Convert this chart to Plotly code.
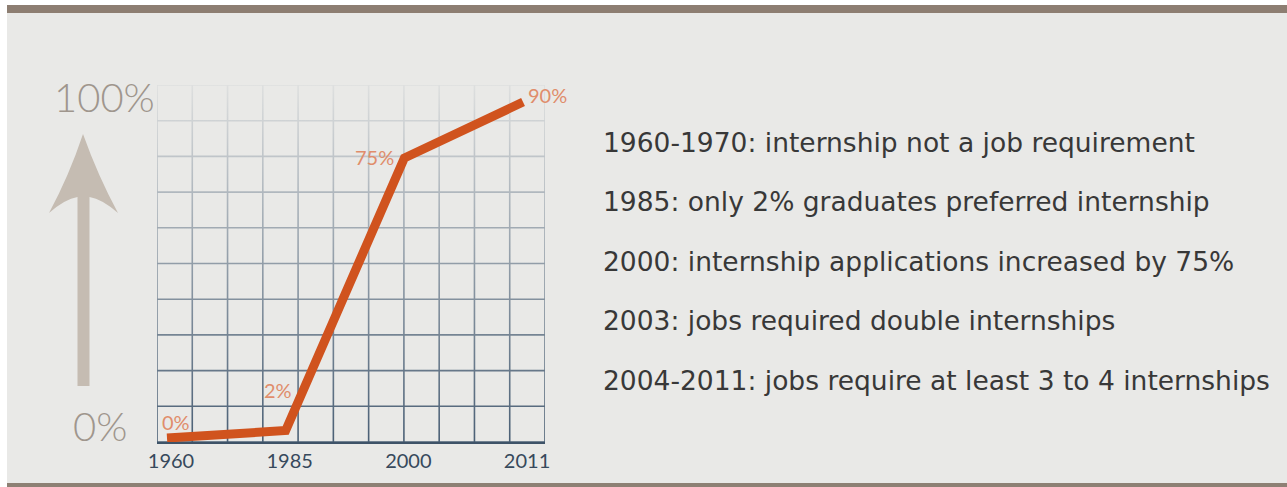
import numpy as np
import plotly.graph_objects as go

# ---------------- data ----------------
years = ["1960", "1985", "2000", "2011"]
share = [0, 2, 75, 90]
point_labels = ["0%", "2%", "75%", "90%"]
scale_labels = ["100%", "0%"]
notes = [
    "1960-1970: internship not a job requirement",
    "1985: only 2% graduates preferred internship",
    "2000: internship applications increased by 75%",
    "2003: jobs required double internships",
    "2004-2011: jobs require at least 3 to 4 internships",
]

# ---------------- layout geometry (pixels) ----------------
W, H = 1287, 487
L, R, T, B = 157, 545, 85, 442          # plot box
XR = [-0.0843, 3.185]
YR = [-1.07, 94.56]

def px(x):
    return (x - L) / (R - L)

def py(y):
    return (B - y) / (B - T)

BG = "#e9e9e7"
GRID = "#4a5f75"
ORANGE = "#d0531e"
LABEL_ORANGE = "#e08d6b"
WARM = "#9f968d"
ARROW = "#c5bcb2"

idx = list(range(len(years)))

fig = go.Figure()

# grid fade overlay (background colour, transparent at bottom -> opaque at top)
fig.add_trace(go.Scatter(
    x=[XR[0], XR[1], XR[1], XR[0], XR[0]],
    y=[YR[0], YR[0], YR[1], YR[1], YR[0]],
    fill="toself", mode="none", hoverinfo="skip", showlegend=False,
    fillgradient=dict(type="vertical",
                      colorscale=[[0, "rgba(233,233,231,0)"],
                                  [0.5, "rgba(233,233,231,0.45)"],
                                  [1, "rgba(233,233,231,0.93)"]]),
))

# data line
fig.add_trace(go.Scatter(
    x=idx, y=share, mode="lines",
    line=dict(color=ORANGE, width=9),
    hoverinfo="skip", showlegend=False,
))

shapes = []
# decorative grid (11 columns x 10 rows)
for xv in np.linspace(XR[0], XR[1], 12):
    shapes.append(dict(type="line", xref="x", yref="y", x0=xv, x1=xv,
                       y0=YR[0], y1=YR[1], layer="below",
                       line=dict(color=GRID, width=1.6)))
for yv in np.linspace(YR[0], YR[1], 11):
    shapes.append(dict(type="line", xref="x", yref="y", x0=XR[0], x1=XR[1],
                       y0=yv, y1=yv, layer="below",
                       line=dict(color=GRID, width=1.6)))

# top / bottom bands of the slide
shapes.append(dict(type="rect", xref="paper", yref="paper",
                   x0=px(0), x1=px(W), y0=py(0), y1=py(5),
                   fillcolor="#ffffff", line=dict(width=0), layer="below"))
shapes.append(dict(type="rect", xref="paper", yref="paper",
                   x0=px(7), x1=px(W), y0=py(5), y1=py(13),
                   fillcolor="#8d7e72", line=dict(width=0), layer="below"))
shapes.append(dict(type="rect", xref="paper", yref="paper",
                   x0=px(0), x1=px(7), y0=py(0), y1=py(H),
                   fillcolor="#ffffff", line=dict(width=0), layer="below"))
shapes.append(dict(type="rect", xref="paper", yref="paper",
                   x0=px(7), x1=px(W), y0=py(483), y1=py(H),
                   fillcolor="#8d8074", line=dict(width=0), layer="below"))

# upward arrow
def P(x, y):
    return f"{px(x):.5f},{py(y):.5f}"

arrow_path = (
    f"M {P(83,134)} "
    f"Q {P(98,176)} {P(118,213)} "
    f"Q {P(102,199)} {P(89.5,197)} "
    f"L {P(89.5,386)} L {P(77.5,386)} L {P(77.5,197)} "
    f"Q {P(65,199)} {P(49,213)} "
    f"Q {P(69,176)} {P(83,134)} Z"
)
shapes.append(dict(type="path", xref="paper", yref="paper", path=arrow_path,
                   fillcolor=ARROW, line=dict(width=0), layer="below"))

annotations = []
# point labels
offs = [dict(xanchor="left", yanchor="middle", xshift=-7, yshift=16),
        dict(xanchor="center", yanchor="middle", xshift=-8, yshift=41),
        dict(xanchor="right", yanchor="middle", xshift=-8, yshift=1),
        dict(xanchor="left", yanchor="middle", xshift=3, yshift=7)]
for i, t in enumerate(point_labels):
    annotations.append(dict(x=idx[i], y=share[i], xref="x", yref="y",
                            text=t, showarrow=False,
                            font=dict(family="Lato", size=20, color=LABEL_ORANGE),
                            **offs[i]))

# scale labels
for t, (cx, cy) in zip(scale_labels, [(104, 97), (100, 426)]):
    annotations.append(dict(x=px(cx), y=py(cy), xref="paper", yref="paper",
                            text=t, showarrow=False, xanchor="center", yanchor="middle",
                            font=dict(family="Lato", size=40, color=WARM, weight=300)))

# notes on the right
for i, t in enumerate(notes):
    annotations.append(dict(x=px(601), y=py(142 + 59.5 * i), xref="paper", yref="paper",
                            text=t, showarrow=False, xanchor="left", yanchor="middle",
                            font=dict(family="DejaVu Sans", size=26.5, color="#383838")))

fig.update_layout(
    width=W, height=H, autosize=False,
    margin=dict(l=L, r=W - R, t=T, b=H - B, pad=0),
    paper_bgcolor=BG, plot_bgcolor=BG,
    shapes=shapes, annotations=annotations,
    xaxis=dict(range=XR, tickvals=idx, ticktext=years, showgrid=False,
               zeroline=False, showline=True, linecolor="#3e5368", linewidth=2,
               ticks="", ticklabelshift=4,
               tickfont=dict(family="Lato", size=20, color="#37495c"),
               fixedrange=True),
    yaxis=dict(range=YR, showgrid=False, zeroline=False, showticklabels=False,
               showline=False, fixedrange=True),
    showlegend=False,
)

fig.write_html("out.html")
